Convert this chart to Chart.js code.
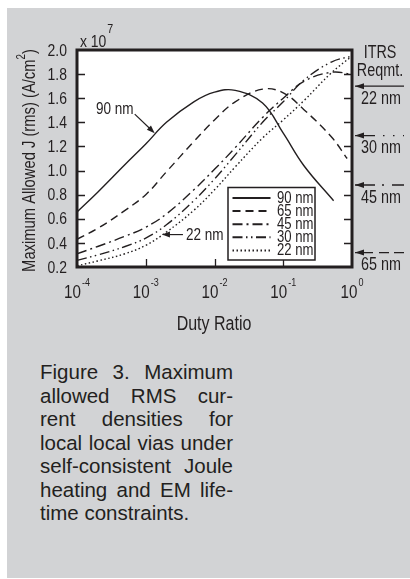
<!DOCTYPE html>
<html>
<head>
<meta charset="utf-8">
<title>Figure 3</title>
<script src="https://cdn.jsdelivr.net/npm/chart.js@4.4.1/dist/chart.umd.min.js"></script>
<style>
  html, body { margin: 0; padding: 0; background: #ffffff; width: 410px; height: 579px; overflow: hidden; }
  #panel { position: absolute; left: 7px; top: 8px; width: 403px; height: 570px; background: #d2d3d5; }
  #chartBox { position: absolute; left: 0; top: 0; width: 410px; height: 345px; }
  #caption { position: absolute; left: 40px; top: 360px; width: 193px; color: #231f20;
             font-family: 'Liberation Sans', Arial, Helvetica, sans-serif; font-size: 20.5px; line-height: 23.5px; }
  #caption div { text-align: justify; text-align-last: justify; }
  #caption div.last { text-align: left; text-align-last: left; }
</style>
</head>
<body>
<div id="panel"></div>
<div id="chartBox"><canvas id="chart"></canvas></div>
<div id="caption">
  <div>Figure 3. Maximum</div>
  <div>allowed RMS cur-</div>
  <div>rent densities for</div>
  <div>local local vias under</div>
  <div>self-consistent Joule</div>
  <div>heating and EM life-</div>
  <div class="last">time constraints.</div>
</div>
<script>
// duty ratio (x) and maximum allowed J in units of 1e7 A/cm^2 (y), one pair per node
const x90 = [1e-4, 2e-4, 5e-4, 1e-3, 2e-3, 5e-3, 1e-2, 2e-2, 5e-2, 0.1, 0.2, 0.54];
const j90 = [0.656, 0.82, 1.05, 1.22, 1.40, 1.57, 1.65, 1.665, 1.56, 1.31, 1.04, 0.75];

const x65 = [1e-4, 2e-4, 5e-4, 1e-3, 2e-3, 5e-3, 1e-2, 2e-2, 5e-2, 0.1, 0.2, 0.5, 0.85];
const j65 = [0.43, 0.52, 0.67, 0.80, 0.99, 1.24, 1.42, 1.57, 1.675, 1.645, 1.505, 1.28, 1.10];

const x45 = [1e-4, 2e-4, 5e-4, 1e-3, 2e-3, 5e-3, 1e-2, 2e-2, 5e-2, 0.1, 0.2, 0.5, 1];
const j45 = [0.31, 0.37, 0.455, 0.53, 0.64, 0.84, 1.01, 1.19, 1.44, 1.60, 1.74, 1.815, 1.80];

const x30 = [1e-4, 2e-4, 5e-4, 1e-3, 2e-3, 5e-3, 1e-2, 2e-2, 5e-2, 0.1, 0.2, 0.5, 1];
const j30 = [0.255, 0.30, 0.37, 0.44, 0.55, 0.75, 0.93, 1.13, 1.40, 1.57, 1.75, 1.90, 1.95];

const x22 = [1e-4, 2e-4, 5e-4, 1e-3, 2e-3, 5e-3, 1e-2, 2e-2, 5e-2, 0.1, 0.2, 0.5, 1];
const j22 = [0.21, 0.25, 0.31, 0.38, 0.49, 0.67, 0.84, 1.03, 1.27, 1.42, 1.58, 1.81, 1.95];

const nodeLabels = ['90 nm', '65 nm', '45 nm', '30 nm', '22 nm'];

// x axis decades, drawn as 10 with a superscript
const xTickValues = [1e-4, 1e-3, 1e-2, 1e-1, 1];
const xTickExps = ['-4', '-3', '-2', '-1', '0'];

// ITRS requirement marks on the right
const itrsNodes = ['22 nm', '30 nm', '45 nm', '65 nm'];
const itrsValues = [1.70, 1.29, 0.88, 0.32];


const INK = '#231f20';

// the figure uses a condensed face; squeeze the regular one if no narrow font is installed
let SX = 1;
let FAMILY = "'Liberation Sans Narrow', 'Arial Narrow', sans-serif";
(function () {
    const c = document.createElement('canvas').getContext('2d');
    c.font = "20px 'Liberation Sans Narrow', monospace";
    const a = c.measureText('abcdefghij').width;
    c.font = '20px monospace';
    const b = c.measureText('abcdefghij').width;
    if (Math.abs(a - b) < 0.5) {
        SX = 0.82;
        FAMILY = "'Liberation Sans', Arial, sans-serif";
    }
})();
function font(px) { return px + 'px ' + FAMILY; }
function tw(ctx, s) { return ctx.measureText(s).width * SX; }
function fillT(ctx, s, x, y, align) {
    const w = tw(ctx, s);
    const left = align === 'center' ? x - w / 2 : align === 'right' ? x - w : x;
    ctx.save();
    ctx.textAlign = 'left';
    ctx.translate(left, y);
    ctx.scale(SX, 1);
    ctx.fillText(s, 0, 0);
    ctx.restore();
}

function pts(xs, ys) { return xs.map((v, i) => ({ x: v, y: ys[i] })); }

// base text with a raised exponent; x is left edge or centre
function drawPow(ctx, base, exp, x, y, size, expSize, rise, center) {
    ctx.textBaseline = 'alphabetic';
    ctx.font = font(size);
    const wb = tw(ctx, base);
    ctx.font = font(expSize);
    const we = tw(ctx, exp);
    const left = center ? x - (wb + 1 + we) / 2 : x;
    ctx.font = font(size);
    fillT(ctx, base, left, y, 'left');
    ctx.font = font(expSize);
    fillT(ctx, exp, left + wb + 1, y - rise, 'left');
}

function arrowHead(ctx, tx, ty, ang, len, half) {
    const c = Math.cos(ang), s = Math.sin(ang);
    ctx.beginPath();
    ctx.moveTo(tx, ty);
    ctx.lineTo(tx - len * c + half * s, ty - len * s - half * c);
    ctx.lineTo(tx - len * c - half * s, ty - len * s + half * c);
    ctx.closePath();
    ctx.fill();
}

function arrow(ctx, x1, y1, x2, y2) {
    const ang = Math.atan2(y2 - y1, x2 - x1);
    ctx.beginPath();
    ctx.moveTo(x1, y1);
    ctx.lineTo(x2 - 5 * Math.cos(ang), y2 - 5 * Math.sin(ang));
    ctx.stroke();
    arrowHead(ctx, x2, y2, ang, 8, 3);
}

const figurePlugin = {
    id: 'figure',
    beforeDraw(chart) {
        const { ctx, chartArea: a } = chart;
        ctx.save();
        ctx.fillStyle = '#ffffff';
        ctx.fillRect(a.left, a.top, a.right - a.left, a.bottom - a.top);
        ctx.restore();
    },
    afterDraw(chart) {
        const { ctx, chartArea: a, scales: { x, y } } = chart;
        ctx.save();
        ctx.strokeStyle = INK;
        ctx.fillStyle = INK;

        // inward ticks
        ctx.lineWidth = 1.3;
        ctx.beginPath();
        y.ticks.forEach(t => {
            if (t.value < 0.3 || t.value > 1.9) return;
            const py = Math.round(y.getPixelForValue(t.value)) + 0.5;
            ctx.moveTo(a.left, py); ctx.lineTo(a.left + 8, py);
            ctx.moveTo(a.right, py); ctx.lineTo(a.right - 8, py);
        });
        xTickValues.slice(1, -1).forEach(v => {
            const px = Math.round(x.getPixelForValue(v)) + 0.5;
            ctx.moveTo(px, a.bottom); ctx.lineTo(px, a.bottom - 8);
        });
        ctx.stroke();

        // frame
        ctx.lineWidth = 3;
        ctx.strokeRect(a.left, a.top, a.right - a.left, a.bottom - a.top);

        // y tick labels
        ctx.font = font(17);
        ctx.textBaseline = 'middle';
        y.ticks.forEach(t => {
            fillT(ctx, t.value.toFixed(1), a.left - 10, y.getPixelForValue(t.value) + 1, 'right');
        });

        // x tick labels
        xTickValues.forEach((v, i) => {
            drawPow(ctx, '10', xTickExps[i], x.getPixelForValue(v), a.bottom + 31, 18.5, 11, 12, true);
        });

        // multiplier
        drawPow(ctx, 'x 10', '7', a.left + 3, a.top - 3.5, 17, 13, 13.5, false);

        // axis titles
        ctx.font = font(19.5);
        ctx.textBaseline = 'alphabetic';
        fillT(ctx, 'Duty Ratio', (a.left + a.right) / 2 - 0.5, a.bottom + 63, 'center');

        ctx.save();
        ctx.translate(35, (a.top + a.bottom) / 2 + 2);
        ctx.rotate(-Math.PI / 2);
        const t1 = 'Maximum Allowed J (rms) (A/cm', t2 = '2', t3 = ')';
        ctx.font = font(18);
        const w1 = tw(ctx, t1), w3 = tw(ctx, t3);
        ctx.font = font(12);
        const w2 = tw(ctx, t2);
        const sx = -(w1 + w2 + w3) / 2;
        ctx.font = font(18);
        fillT(ctx, t1, sx, 0, 'left');
        ctx.font = font(12);
        fillT(ctx, t2, sx + w1, -10, 'left');
        ctx.font = font(18);
        fillT(ctx, t3, sx + w1 + w2, 0, 'left');
        ctx.restore();

        // legend box
        const bx = a.left + 151, by = a.top + 137.5, bw = 87, bh = 72.5;
        ctx.fillStyle = '#ffffff';
        ctx.fillRect(bx, by, bw, bh);
        ctx.fillStyle = INK;
        ctx.lineWidth = 1.5;
        ctx.strokeRect(bx, by, bw, bh);
        chart.data.datasets.forEach((ds, i) => {
            const ly = by + 10.5 + i * 13.1;
            ctx.lineWidth = 2;
            ctx.setLineDash(ds.borderDash || []);
            ctx.beginPath();
            ctx.moveTo(bx + 4.5, ly); ctx.lineTo(bx + 42.5, ly);
            ctx.stroke();
            ctx.setLineDash([]);
            ctx.font = font(16);
            ctx.textBaseline = 'middle';
            fillT(ctx, ds.label, bx + 49, ly + 0.5, 'left');
        });

        // curve labels with arrows
        ctx.lineWidth = 1.2;
        ctx.textBaseline = 'alphabetic';
        ctx.font = font(16.5);
        let tx = x.getPixelForValue(1.35e-3), ty = y.getPixelForValue(1.31);
        arrow(ctx, tx - 20, ty - 19, tx, ty);
        fillT(ctx, '90 nm', tx - 40, ty - 19, 'center');
        tx = x.getPixelForValue(1.72e-3); ty = y.getPixelForValue(0.469);
        arrow(ctx, tx + 21, ty, tx, ty);
        fillT(ctx, '22 nm', tx + 24, ty + 5.5, 'left');

        // ITRS requirement marks
        ctx.font = font(17.5);
        fillT(ctx, 'ITRS', 380, a.top + 8, 'center');
        fillT(ctx, 'Reqmt.', 380, a.top + 25.5, 'center');
        const dashes = [[], [20, 8, 1.5, 8.5, 1.5, 8.5, 1.5, 60], [20, 7, 2, 8, 12, 60], [18, 6, 10, 5, 11, 60]];
        itrsNodes.forEach((lab, i) => {
            const py = y.getPixelForValue(itrsValues[i]);
            const x0 = a.right + 3;
            ctx.lineWidth = 1.3;
            ctx.setLineDash(dashes[i]);
            ctx.beginPath();
            ctx.moveTo(x0, py); ctx.lineTo(404, py);
            ctx.stroke();
            ctx.setLineDash([]);
            arrowHead(ctx, x0, py, Math.PI, 9, 3);
            fillT(ctx, lab, 381, py + 17.5, 'center');
        });
        ctx.restore();
    }
};

function series(label, xs, ys, dash) {
    return {
        label: label,
        data: pts(xs, ys),
        borderColor: INK,
        borderWidth: 1.4,
        borderDash: dash,
        pointRadius: 0,
        fill: false,
        tension: 0.4
    };
}

new Chart(document.getElementById('chart').getContext('2d'), {
    type: 'line',
    data: {
        datasets: [
            series(nodeLabels[0], x90, j90, []),
            series(nodeLabels[1], x65, j65, [8, 5]),
            series(nodeLabels[2], x45, j45, [10, 4, 2, 4]),
            series(nodeLabels[3], x30, j30, [10, 3.5, 1.5, 3.5, 1.5, 3.5]),
            series(nodeLabels[4], x22, j22, [1.5, 2.5])
        ]
    },
    options: {
        responsive: true,
        maintainAspectRatio: false,
        animation: false,
        layout: { padding: { left: 0, right: 58, top: 50, bottom: 0 } },
        plugins: { legend: { display: false }, tooltip: { enabled: false } },
        scales: {
            x: {
                type: 'logarithmic', min: 1e-4, max: 1,
                ticks: { display: false },
                grid: { display: false, drawTicks: false },
                border: { display: false },
                afterFit: s => { s.height = 78; }
            },
            y: {
                min: 0.2, max: 2.0,
                ticks: { display: false, stepSize: 0.2 },
                grid: { display: false, drawTicks: false },
                border: { display: false },
                afterFit: s => { s.width = 77; }
            }
        }
    },
    plugins: [figurePlugin]
});
</script>
</body>
</html>
